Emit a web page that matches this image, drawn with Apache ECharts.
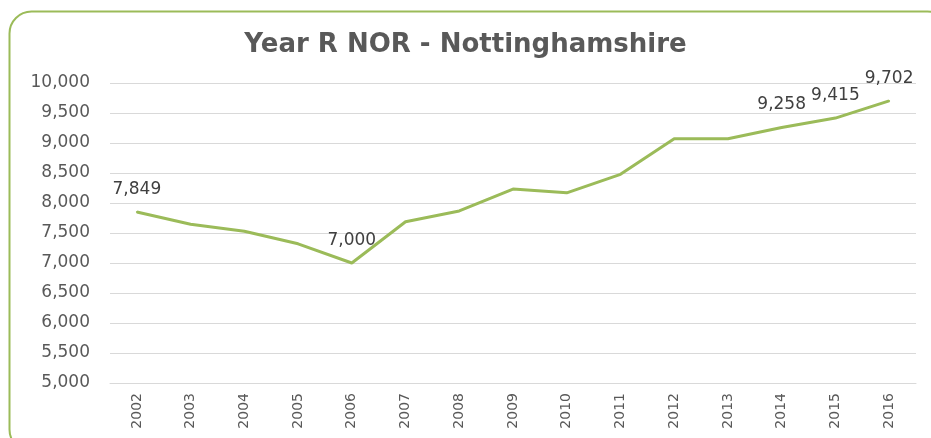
<!DOCTYPE html>
<html>
<head>
<meta charset="utf-8">
<script src="https://cdn.jsdelivr.net/npm/echarts@6/dist/echarts.min.js"></script>
<style>html,body{margin:0;padding:0;background:#fff}#c{width:931px;height:438px}</style>
</head>
<body>
<div id="c"></div>
<script>
var years = ['2002','2003','2004','2005','2006','2007','2008','2009','2010','2011','2012','2013','2014','2015','2016'];
var nor = [7849, 7645, 7530, 7320, 7000, 7688, 7867, 8233, 8170, 8478, 9072, 9072, 9258, 9415, 9702];
var labelledYears = ['2002','2006','2014','2015','2016'];
var yMin = 5000, yMax = 10000, yStep = 500;

var chart = echarts.init(document.getElementById('c'), null, {renderer:'canvas'});
var seriesData = nor.map(function(v, i){
  return labelledYears.indexOf(years[i]) >= 0
    ? {value: v, symbol: 'circle', symbolSize: 2, label: {show: true}}
    : {value: v, symbol: 'none'};
});
chart.setOption({
  animation: false,
  backgroundColor: '#ffffff',
  graphic: [{
    type: 'rect', left: 7, top: 9, z: 100, silent: true,
    shape: {width: 940, height: 440, r: 22},
    style: {fill: 'none', stroke: '#9bbb59', lineWidth: 2}
  }],
  title: {
    text: 'Year R NOR - Nottinghamshire',
    left: 'center', top: 27,
    textStyle: {fontFamily: 'DejaVu Sans', fontWeight: 'bold', fontSize: 26, color: '#595959'}
  },
  grid: {left: 110, right: 15, top: 83, bottom: 55},
  xAxis: {
    type: 'category', data: years, boundaryGap: true,
    axisLine: {show: true, lineStyle: {color: '#d9d9d9'}},
    axisTick: {show: false},
    axisLabel: {rotate: 90, margin: 10, fontFamily: 'DejaVu Sans', fontSize: 14, color: '#595959'}
  },
  yAxis: {
    type: 'value', min: yMin, max: yMax, interval: yStep,
    axisLine: {show: false}, axisTick: {show: false},
    splitLine: {lineStyle: {color: '#d9d9d9', width: 1}},
    axisLabel: {margin: 20, fontFamily: 'DejaVu Sans', fontSize: 17, color: '#595959',
      formatter: function(v){ return v.toLocaleString('en-US'); }}
  },
  series: [{
    type: 'line', data: seriesData, showSymbol: true,
    itemStyle: {color: '#9bbb59'},
    lineStyle: {color: '#9bbb59', width: 3},
    label: {show: false, position: 'top', distance: 13, fontFamily: 'DejaVu Sans', fontSize: 17, color: '#404040',
      formatter: function(p){ return p.value.toLocaleString('en-US'); }}
  }]
});
</script>
</body>
</html>
